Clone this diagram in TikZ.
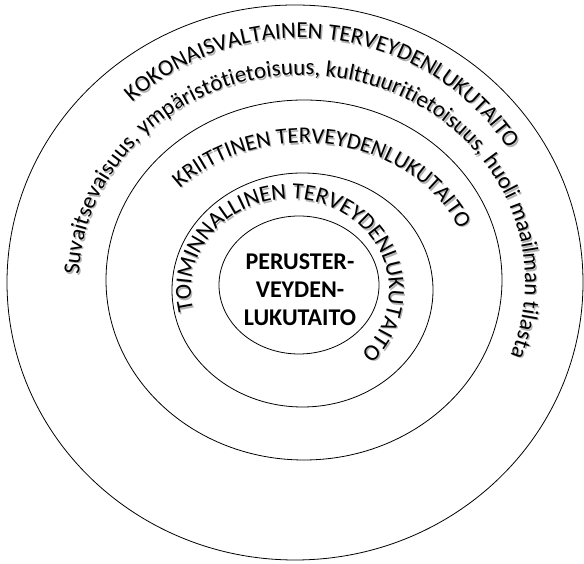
\documentclass[tikz,border=0pt]{standalone}
\usepackage{fontspec}
\setmainfont{Carlito}
\usetikzlibrary{decorations.text}
\newcommand\arctext[7]{%
  \path[decorate,decoration={text along path,text align=left,text={#7}}]
    (#1,#2) ++(#5:#3 and #4) arc[start angle=#5,end angle=#6,x radius=#3,y radius=#4];}
\newcommand\shadowtext[8]{% font size, cx, cy, rx, ry, start, end, text
  \begin{scope}[shift={(1.3,-1.6)}]
    \arctext{#2}{#3}{#4}{#5}{#6}{#7}{|\fontsize{#1}{#1}\selectfont\color{black!30}|#8}
  \end{scope}
  \arctext{#2}{#3}{#4}{#5}{#6}{#7}{|\fontsize{#1}{#1}\selectfont\color{black}|#8}}
\tikzset{ring/.style={draw=black,line width=0.8pt}}
\begin{document}
\begin{tikzpicture}[x=1pt,y=1pt]
\useasboundingbox (0,0) rectangle (584,564);
% rings
\draw[ring] (295,281.5) ellipse[x radius=288,y radius=277.5];
\draw[ring] (304,284) ellipse[x radius=198,y radius=180];
\draw[ring] (302.5,274) ellipse[x radius=130.5,y radius=117];
\draw[ring] (299,279) ellipse[x radius=80,y radius=69];
% curved labels
\shadowtext{23}{300}{282}{248}{244}{132.6}{0}{KOKONAISVALTAINEN TERVEYDENLUKUTAITO}
\shadowtext{23}{302}{282}{223}{207}{178}{-60}{Suvaitsevaisuus, ympäristötietoisuus, kulttuuritietoisuus, huoli maailman tilasta}
\shadowtext{22.5}{304}{284}{167}{137}{138}{-10}{KRIITTINEN TERVEYDENLUKUTAITO}
\shadowtext{23}{290}{274}{99}{91}{193}{-80}{TOIMINNALLINEN TERVEYDENLUKUTAITO}
% centre
\node[align=center,font=\bfseries\fontsize{24}{28}\selectfont] (core) at (300,274) {PERUSTER-\\VEYDEN-\\LUKUTAITO};
\end{tikzpicture}
\end{document}
